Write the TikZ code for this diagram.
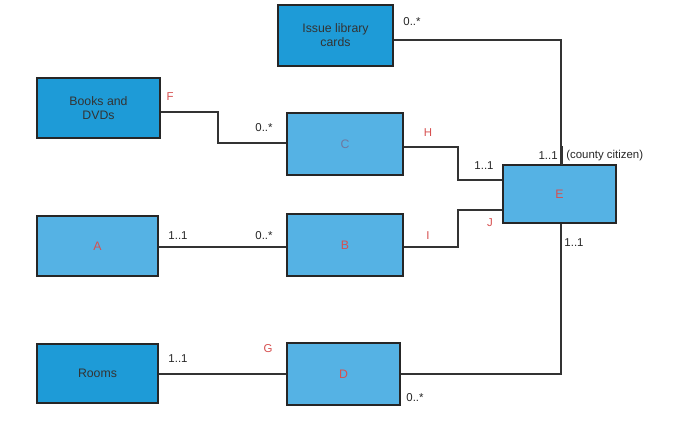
\documentclass[tikz,border=0pt]{standalone}
\usepackage{fontspec}
\setmainfont{Liberation Sans}
\begin{document}
\begin{tikzpicture}[x=0.02cm,y=-0.02cm,
  dk/.style={draw=black!85,line width=1.1pt,fill={rgb,255:red,30;green,155;blue,215},minimum width=#1,inner sep=0pt,align=center,font=\fontsize{7}{8}\selectfont,text=black!80},
  lt/.style={draw=black!85,line width=1.1pt,fill={rgb,255:red,85;green,178;blue,228},minimum width=#1,inner sep=0pt,font=\fontsize{7}{8}\selectfont,text={rgb,255:red,215;green,80;blue,80}},
  ln/.style={draw=black!80,line width=0.9pt},
  lb/.style={font=\fontsize{6.5}{7}\selectfont,text=black!85,inner sep=0pt},
  rl/.style={lb,text={rgb,255:red,215;green,80;blue,80}}]
\fill[white] (0,0) rectangle (700,440);
\node[dk=2.3cm,minimum height=1.22cm] (I) at (335.5,35.5) {Issue library\\cards};
\node[dk=2.46cm,minimum height=1.2cm] (BD) at (98.5,108) {Books and\\DVDs};
\node[lt=2.32cm,minimum height=1.24cm,text={rgb,255:red,110;green,120;blue,160}] (C) at (345,144) {C};
\node[lt=2.26cm,minimum height=1.16cm] (E) at (559.5,194) {E};
\node[lt=2.42cm,minimum height=1.2cm] (A) at (97.5,246) {A};
\node[lt=2.32cm,minimum height=1.24cm] (B) at (345,245) {B};
\node[dk=2.42cm,minimum height=1.18cm] (R) at (97.5,373.5) {Rooms};
\node[lt=2.26cm,minimum height=1.24cm] (D) at (343.5,374) {D};
\draw[ln] (I.east|-0,40) -- (561,40) -- (E.north-|561,0);
\draw[ln] (BD.east|-0,112) -- (218,112) -- (218,143) -- (C.west|-0,143);
\draw[ln] (C.east|-0,147) -- (458,147) -- (458,180) -- (E.west|-0,180);
\draw[ln] (A.east|-0,247) -- (B.west|-0,247);
\draw[ln] (B.east|-0,247) -- (458,247) -- (458,210) -- (E.west|-0,210);
\draw[ln] (E.south-|561,0) -- (561,374) -- (D.east|-0,374);
\draw[ln] (R.east|-0,374) -- (D.west|-0,374);
\draw[ln,line width=0.6pt] (562,146) -- (562,165);
\node[lb] (l1) at (412,22) {0..*};
\node[rl] (l2) at (170,97) {F};
\node[lb] (l3) at (264,128) {0..*};
\node[rl] (l4) at (428,133) {H};
\node[lb] (l5) at (484,166) {1..1};
\node[lb,anchor=east] (l6) at (558,156) {1..1};
\node[lb,anchor=west] (l7) at (566,156) {(county citizen)};
\node[rl] (l8) at (490,223) {J};
\node[lb] (l9) at (178,236) {1..1};
\node[lb] (l10) at (264,236) {0..*};
\node[rl] (l11) at (428,236) {I};
\node[lb] (l12) at (574,243) {1..1};
\node[rl] (l13) at (268,349) {G};
\node[lb] (l14) at (178,359) {1..1};
\node[lb] (l15) at (415,398) {0..*};
\end{tikzpicture}
\end{document}
